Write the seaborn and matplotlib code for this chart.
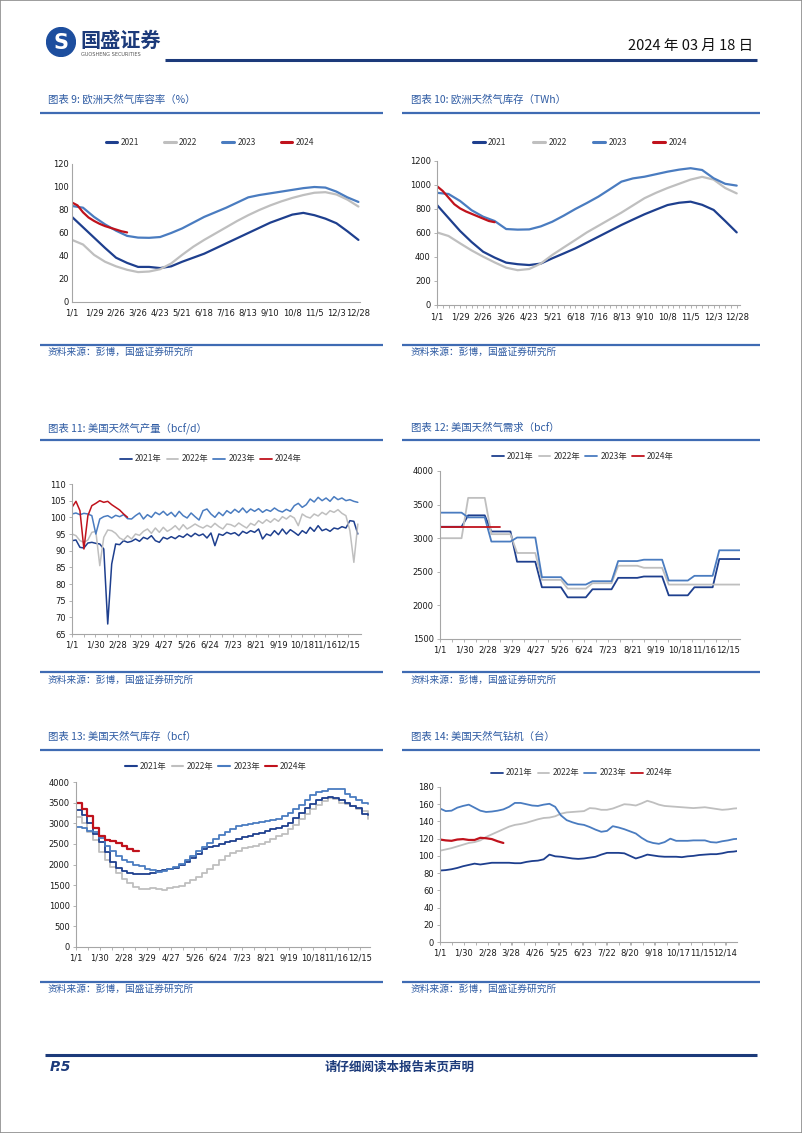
import numpy as np
import pandas as pd
import seaborn as sns
import matplotlib.pyplot as plt
from matplotlib.lines import Line2D
from matplotlib.patches import Circle, Rectangle

W, H = 802, 1133

# 图表 9: 欧洲天然气库容率 (%), every 14 days from 1/1 (2024: every 7 days)
eu_pct_2021 = [74, 65, 56, 47, 38.5, 34, 30.5, 30.5, 29.5, 31, 35, 38.5, 42, 46.5, 51, 55.5,
               60, 64.5, 69, 72.5, 76, 77.5, 75.5, 72.5, 68.5, 61.5, 54]
eu_pct_2022 = [54, 50, 41, 35, 31, 28, 26, 26.5, 28.5, 33.5, 41, 48, 54, 59.5, 65, 70.5,
               75.5, 80, 84, 87.5, 90.5, 93, 95, 95.5, 93.5, 89, 83]
eu_pct_2023 = [83.5, 82, 74, 67.5, 62, 57.5, 56, 55.8, 56.5, 60, 64, 69, 74, 78, 82, 86.5,
               91, 93, 94.5, 96, 97.5, 99, 100, 99.5, 96, 91, 87]
eu_pct_2024 = [86.5, 84, 78, 73.5, 70.5, 68, 66, 64.5, 63, 61.5, 60.5]

# 图表 10: 欧洲天然气库存 (TWh)
eu_twh_2021 = [833, 725, 617, 525, 444, 395, 353, 340, 333, 345, 389, 430, 472, 520, 569, 618,
               667, 712, 756, 795, 833, 852, 861, 835, 792, 700, 605]
eu_twh_2022 = [605, 575, 514, 455, 403, 355, 311, 290, 300, 345, 417, 480, 542, 605, 660, 715,
               770, 830, 890, 935, 975, 1010, 1045, 1068, 1045, 975, 930]
eu_twh_2023 = [935, 925, 867, 790, 736, 700, 633, 628, 630, 655, 694, 745, 800, 850, 903, 965,
               1028, 1055, 1069, 1090, 1111, 1128, 1140, 1125, 1056, 1010, 995]
eu_twh_2024 = [990, 950, 895, 840, 805, 780, 760, 740, 720, 700, 690]
eu_ticks = ['1/1', '1/29', '2/26', '3/26', '4/23', '5/21', '6/18', '7/16', '8/13', '9/10',
            '10/8', '11/5', '12/3', '12/28']

# 图表 11: 美国天然气产量 (bcf/d), every 5 days
prod_2021 = [93, 93.2, 91, 90.8, 92.3, 92.5, 92.2, 92, 90.5, 68,
             86, 92, 91.8, 93, 92.5, 92.8, 93.5, 92.8, 94, 93.5,
             94.5, 93, 92.5, 94, 93.5, 94.2, 93.6, 94.5, 94, 95,
             94.2, 95.2, 94.5, 95, 93.8, 95.3, 91.5, 95, 94.6, 95.5,
             95, 95.4, 94.5, 95.8, 95.2, 96, 95.5, 96.5, 93.5, 95,
             94.5, 96, 94.8, 96.5, 95, 96.3, 95.5, 94.6, 96, 95.2,
             97, 95.8, 97.5, 96, 96.5, 95.8, 96.8, 96.5, 97.2, 96.8,
             99, 98.8, 95]
prod_2022 = [95, 94.5, 93, 92.5, 93.2, 95.5, 95.8, 85.5, 94, 96.2,
             96, 95.2, 93.8, 93.2, 94.5, 93.5, 95, 94.6, 95.8, 96.5,
             95.2, 96.8, 95.5, 97, 95.8, 96.5, 97.5, 96.2, 97.8, 96.5,
             97.2, 98, 97.3, 96.8, 97.6, 97, 98.2, 97.2, 96.5, 98,
             97.8, 97.2, 98.3, 97.5, 96.8, 98.2, 97.6, 99, 98.2, 99.3,
             98.5, 99.6, 98.8, 100.2, 99.5, 100.5, 99.8, 97.5, 101, 100.2,
             99.8, 101, 100.4, 101.5, 100.8, 102, 101.5, 102.3, 101.2, 100.5,
             96, 86.5, 98]
prod_2023 = [101, 101.3, 100.8, 101.2, 101, 100.5, 95, 99.5, 100.2, 100.5,
             99.8, 100.6, 100.2, 100.8, 99.6, 99.5, 100.5, 101.3, 99.5, 100.8,
             100, 101.5, 100.8, 101.8, 100.6, 101.5, 100.2, 101.8, 100.5, 99.8,
             101.3, 100.2, 99.2, 102, 102.5, 101, 100, 101.5, 100.5, 102,
             101.2, 102.4, 101.5, 102.8, 101.4, 102.5, 101.8, 102.6, 101.5, 102.3,
             101.8, 102.8, 102, 101.6, 102.4, 101.8, 103.5, 104.2, 103, 103.8,
             105.5, 104.6, 106, 105, 105.8, 104.8, 106.2, 105.3, 105.8, 105,
             105.3, 104.8, 104.5]
prod_2024 = [103, 104.8, 102, 90.5, 100.5, 103.5, 104.2, 105, 104.5, 104.8, 103.8, 103, 102.2, 101, 100]
us_ticks = ['1/1', '1/30', '2/28', '3/29', '4/27', '5/26', '6/24', '7/23', '8/21', '9/19',
            '10/18', '11/16', '12/15']

# 图表 12: 美国天然气需求 (bcf), monthly
dem_2021 = [3170, 3340, 3100, 2650, 2270, 2120, 2240, 2410, 2430, 2150, 2270, 2690]
dem_2022 = [3000, 3600, 3060, 2780, 2380, 2250, 2330, 2590, 2560, 2310, 2310, 2310]
dem_2023 = [3380, 3310, 2950, 3010, 2420, 2310, 2360, 2660, 2680, 2370, 2440, 2820]
dem_2024 = [3170, 3170, 3170]

# 图表 13: 美国天然气库存 (bcf), weekly
stor_2021 = [3330, 3200, 3000, 2750, 2550, 2300, 2050, 1920, 1840, 1800, 1780, 1760, 1760,
             1790, 1840, 1870, 1880, 1920, 1980, 2060, 2150, 2260, 2380, 2420, 2460, 2500,
             2540, 2580, 2620, 2660, 2700, 2730, 2770, 2810, 2850, 2880, 2940, 3010, 3120,
             3250, 3360, 3470, 3560, 3620, 3640, 3610, 3560, 3500, 3430, 3360, 3230, 3200]
stor_2022 = [3150, 3000, 2800, 2600, 2300, 2100, 1950, 1800, 1650, 1550, 1450, 1410, 1400,
             1420, 1400, 1390, 1420, 1450, 1490, 1550, 1620, 1700, 1800, 1900, 2000, 2100,
             2200, 2270, 2330, 2390, 2420, 2450, 2500, 2550, 2610, 2680, 2750, 2850, 2950,
             3100, 3220, 3350, 3450, 3550, 3620, 3600, 3500, 3470, 3420, 3350, 3300, 3100]
stor_2023 = [2900, 2880, 2820, 2780, 2650, 2450, 2320, 2200, 2120, 2060, 2000, 1960, 1900,
             1860, 1830, 1850, 1880, 1950, 2020, 2100, 2200, 2320, 2430, 2530, 2620, 2720,
             2800, 2860, 2930, 2960, 2980, 3000, 3020, 3050, 3080, 3110, 3170, 3250, 3350,
             3450, 3560, 3680, 3760, 3790, 3820, 3820, 3830, 3700, 3640, 3570, 3500, 3470]
stor_2024 = [3480, 3340, 3180, 2880, 2680, 2600, 2570, 2530, 2460, 2380, 2330, 2320]

# 图表 14: 美国天然气钻机 (台), weekly
rig_2021 = [83, 83.5, 84.5, 86, 88, 89.5, 91, 90, 91, 92, 92, 92, 92, 91.5, 91.5, 93, 94, 94.5,
            96, 101.5, 99.5, 99, 98, 97, 96.5, 97, 98, 99, 101.5, 103.5, 103.5, 103.5, 103, 100,
            97, 99, 101.5, 100.5, 99.5, 99, 99, 99, 98.5, 99.5, 100, 101, 101.5, 102, 102, 103,
            104.5, 105, 106]
rig_2022 = [106, 107.5, 109, 111, 113, 115, 116, 118, 122, 125, 128, 131, 134, 136, 137, 138.5,
            140.5, 142.5, 144, 144.5, 146, 149, 150.5, 151, 151.5, 152, 155.5, 155, 153.5, 153.5,
            155, 157.5, 160, 159.5, 158.5, 161, 164, 162, 159.5, 158, 157.5, 157, 156.5, 156,
            155.5, 156, 156.5, 155.5, 154.5, 153.5, 154, 155, 155.5]
rig_2023 = [155, 152, 152.5, 156, 158, 159.5, 156, 152.5, 151, 151.5, 152.5, 154, 157, 161.5,
            161.5, 160, 158.5, 158, 159.5, 160.5, 157, 147, 141.5, 139, 137, 136, 133.5, 130.5,
            128, 129, 134.5, 133, 131, 128.5, 126, 121, 117, 115, 114, 116, 120, 117.5, 117.5,
            117.5, 118, 118, 118, 116, 115.5, 117, 118, 119.5, 120]
rig_2024 = [119, 118, 117.5, 119, 119.5, 118.5, 118.5, 121, 120.5, 119.5, 117, 115]
rig_ticks = ['1/1', '1/30', '2/28', '3/28', '4/26', '5/25', '6/23', '7/22', '8/20', '9/18',
             '10/17', '11/15', '12/14']

C21, C22, C23, C24 = '#1E3F8E', '#BFBFBF', '#4A7CC0', '#C0121C'
NAVY = '#1C3A7A'
TBLUE = '#2E5BA3'
COLORS = [C21, C22, C23, C24]

sns.set_theme(style='white')
plt.rcParams['font.family'] = ['DejaVu Sans', 'Noto Sans CJK SC']
CJK = ['Noto Sans CJK SC', 'DejaVu Sans']

fig = plt.figure(figsize=(W / 100, H / 100), dpi=100)


def fx(x):
    return x / W


def fy(y):
    return 1 - y / H


def add_ax(x0, y0, x1, y1):
    return fig.add_axes([fx(x0), fy(y1), (x1 - x0) / W, (y1 - y0) / H])


def hline(x0, x1, y, color, lw):
    fig.add_artist(Line2D([fx(x0), fx(x1)], [fy(y), fy(y)], color=color, lw=lw,
                          transform=fig.transFigure, solid_capstyle='butt'))


def draw(ax, xs, ys, color, lw, **kw):
    sns.lineplot(x=xs, y=ys, ax=ax, color=color, linewidth=lw, sort=False,
                 estimator=None, errorbar=None, **kw)


def style(ax, xlim, ylim, yticks, xticks, xlabels, tlen=2.5, minor=None, xpad=2):
    ax.set_xlim(*xlim)
    ax.set_ylim(*ylim)
    ax.set_yticks(yticks)
    ax.set_xticks(xticks)
    ax.set_xticklabels(xlabels)
    for s in ['top', 'right']:
        ax.spines[s].set_visible(False)
    for s in ['left', 'bottom']:
        ax.spines[s].set_color('#A6A6A6')
        ax.spines[s].set_linewidth(0.8)
    ax.tick_params(axis='both', which='major', labelsize=6, color='#A6A6A6', labelcolor='#1A1A1A',
                   length=tlen, width=0.6, pad=2, bottom=True, left=True)
    ax.tick_params(axis='x', which='major', pad=xpad)
    if minor is not None:
        ax.set_xticks(minor, minor=True)
        ax.tick_params(axis='x', which='minor', length=tlen, color='#A6A6A6', width=0.6, bottom=True)
    ax.set_xlabel('')
    ax.set_ylabel('')


def legend(ax, cx, cy, labels, lw, hl, cs):
    hs = [Line2D([], [], color=c, lw=lw) for c in COLORS]
    ax.legend(hs, labels, loc='center', bbox_to_anchor=(fx(cx), fy(cy)),
              bbox_transform=fig.transFigure, ncol=4, frameon=False, fontsize=6,
              handlelength=hl, handletextpad=0.4, columnspacing=cs, borderaxespad=0,
              borderpad=0, labelcolor='#333333', prop={'family': CJK, 'size': 6})


month_start = [0, 31, 59, 90, 120, 151, 181, 212, 243, 273, 304, 334, 365]


def step_path(vals, end_day):
    xs, ys = [], []
    for i, v in enumerate(vals):
        a = month_start[i] + (3 if i else 0)
        b = month_start[i + 1] - 5 if i + 1 < len(vals) else end_day
        xs += [a, b]
        ys += [v, v]
    return xs, ys


# ---------- page frame, header, footer ----------
fig.add_artist(Rectangle((0, 0), 1, 1, fill=False, edgecolor='#8C8C8C', lw=1.2,
                         transform=fig.transFigure))
logo = add_ax(46, 27, 76, 57)
logo.set_xlim(0, 1)
logo.set_ylim(0, 1)
logo.set_aspect('equal')
logo.axis('off')
logo.add_patch(Circle((0.5, 0.5), 0.48, color='#1D4E9E'))
logo.text(0.5, 0.47, 'S', ha='center', va='center', color='white', fontsize=15,
          fontweight='bold', family='DejaVu Sans')
fig.text(fx(80), fy(40), '国盛证券', family=CJK, fontsize=14.5, fontweight='bold',
         color=NAVY, va='center', ha='left')
fig.text(fx(81), fy(55), 'GUOSHENG SECURITIES', family='DejaVu Sans', fontsize=3.6,
         color='#555555', va='center', ha='left')
fig.text(fx(753), fy(46), '2024 年 03 月 18 日', family=CJK, fontsize=10.5,
         color='#111111', va='center', ha='right')
hline(165, 757, 60, NAVY, 2.2)
hline(45, 757, 1055, NAVY, 2.2)
fig.text(fx(50), fy(1067), 'P.5', family='DejaVu Sans', fontsize=10, fontweight='bold',
         style='italic', color=NAVY, va='center', ha='left')
fig.text(fx(400), fy(1067), '请仔细阅读本报告末页声明', family=CJK, fontsize=9,
         fontweight='bold', color=NAVY, va='center', ha='center')

titles = [['图表 9: 欧洲天然气库容率（%）', '图表 10: 欧洲天然气库存（TWh）'],
          ['图表 11: 美国天然气产量（bcf/d）', '图表 12: 美国天然气需求（bcf）'],
          ['图表 13: 美国天然气库存（bcf）', '图表 14: 美国天然气钻机（台）']]
rows = [(100, 113, 345, 352), (428, 440, 672, 680), (737, 750, 982, 989)]
cols = [(48, 40, 383), (411, 402, 760)]
for r, (ty, ly, sy, sty) in enumerate(rows):
    for c, (tx, lx0, lx1) in enumerate(cols):
        fig.text(fx(tx), fy(ty), titles[r][c], family=CJK, fontsize=7.5, color=TBLUE,
                 va='center', ha='left')
        hline(lx0, lx1, ly, '#3F6BB3', 1.6)
        hline(lx0, lx1, sy, '#3F6BB3', 1.6)
        fig.text(fx(tx), fy(sty), '资料来源：彭博，国盛证券研究所', family=CJK, fontsize=7,
                 color=TBLUE, va='center', ha='left')

yr = ['2021', '2022', '2023', '2024']
yrn = ['2021年', '2022年', '2023年', '2024年']

# ---------- 图表 9 ----------
ax = add_ax(72, 164, 360, 302)
for vals, col in zip([eu_pct_2021, eu_pct_2022, eu_pct_2023], COLORS[:3]):
    draw(ax, np.arange(len(vals)) * 14, vals, col, 1.6)
draw(ax, np.arange(len(eu_pct_2024)) * 7, eu_pct_2024, C24, 1.6)
style(ax, (0, 366), (0, 120), range(0, 121, 20), np.arange(14) * 28, eu_ticks, tlen=0, xpad=5)
legend(ax, 210, 142, yr, 2.2, 1.4, 3.0)

# ---------- 图表 10 ----------
ax = add_ax(437, 161, 740, 305)
for vals, col in zip([eu_twh_2021, eu_twh_2022, eu_twh_2023], COLORS[:3]):
    draw(ax, np.arange(len(vals)) * 14, vals, col, 1.6)
draw(ax, np.arange(len(eu_twh_2024)) * 7, eu_twh_2024, C24, 1.6)
style(ax, (0, 368), (0, 1200), range(0, 1201, 200), np.arange(14) * 28, eu_ticks,
      tlen=2.5, minor=np.arange(0, 365, 7), xpad=3)
legend(ax, 580, 142, yr, 2.2, 1.4, 3.2)

us_pos = np.arange(13) * 29
us_minor = np.arange(0, 360, 14.5)

# ---------- 图表 11 ----------
ax = add_ax(72, 484, 361, 634)
for vals, col in zip([prod_2021, prod_2022, prod_2023, prod_2024], COLORS):
    draw(ax, np.arange(len(vals)) * 5, vals, col, 1.1)
style(ax, (0, 364), (65, 110), range(65, 111, 5), us_pos, us_ticks, minor=us_minor)
legend(ax, 211, 459, yrn, 1.3, 1.4, 0.6)

# ---------- 图表 12 ----------
ax = add_ax(440, 471, 740, 639)
for vals, col, end in zip([dem_2021, dem_2022, dem_2023, dem_2024], COLORS, [362, 362, 362, 72]):
    xs, ys = step_path(vals, end)
    draw(ax, xs, ys, col, 1.3)
style(ax, (0, 362), (1500, 4000), range(1500, 4001, 500), us_pos, us_ticks, minor=us_minor)
legend(ax, 583, 456, yrn, 1.3, 1.4, 0.6)

# ---------- 图表 13 ----------
ax = add_ax(76, 782, 370, 947)
for vals, col in zip([stor_2022, stor_2021, stor_2023, stor_2024], [C22, C21, C23, C24]):
    draw(ax, np.arange(len(vals)) * 7, vals, col, 1.3 if col != C24 else 1.6,
         drawstyle='steps-post')
style(ax, (0, 360), (0, 4000), range(0, 4001, 500), us_pos, us_ticks, minor=us_minor)
legend(ax, 216, 766, yrn, 1.5, 1.4, 0.6)

# ---------- 图表 14 ----------
ax = add_ax(440, 787, 737, 942)
for vals, col in zip([rig_2021, rig_2022, rig_2023, rig_2024], COLORS):
    draw(ax, np.arange(len(vals)) * 7, vals, col, 1.3 if col != C24 else 1.6)
rig_pos = [0, 29, 58, 86, 115, 144, 173, 202, 231, 260, 289, 318, 347]
style(ax, (0, 361), (0, 180), range(0, 181, 20), rig_pos, rig_ticks, minor=us_minor)
legend(ax, 582, 773, yrn, 1.3, 1.4, 0.6)

fig.savefig('out.png', dpi=100)
